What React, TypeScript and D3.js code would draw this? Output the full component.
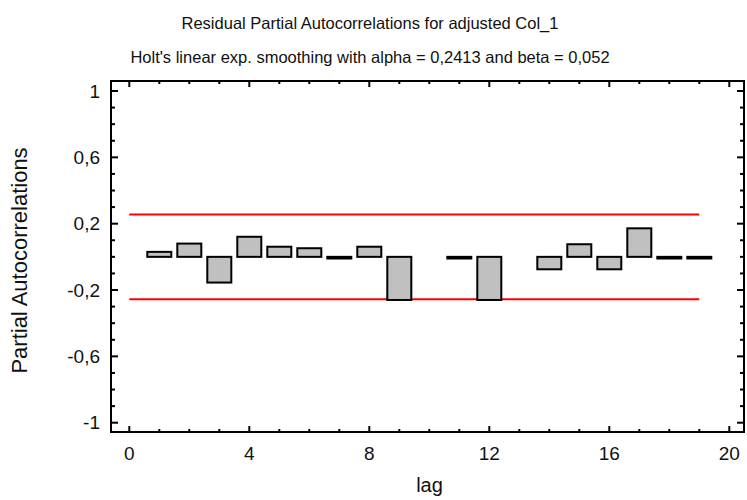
import React from "react";
import * as d3 from "d3";

const lags: number[] = [1, 2, 3, 4, 5, 6, 7, 8, 9, 10, 11, 12, 13, 14, 15, 16, 17, 18, 19];
const pacf: (number | null)[] = [
  0.03, 0.08, -0.155, 0.121, 0.061, 0.052, -0.01, 0.061, -0.26, null,
  -0.01, -0.26, null, -0.075, 0.076, -0.075, 0.172, -0.01, -0.01,
];
const limitUpper = 0.255;
const limitLower = -0.255;
const limitRange: [number, number] = [0, 19];
const xMajorTicks: number[] = [0, 4, 8, 12, 16, 20];
const yMajorTicks: number[] = [-1, -0.6, -0.2, 0.2, 0.6, 1];
const titleLine1 = "Residual Partial Autocorrelations for adjusted Col_1";
const titleLine2 = "Holt's linear exp. smoothing with alpha = 0,2413 and beta = 0,052";
const xLabel = "lag";
const yLabel = "Partial Autocorrelations";

const W = 747;
const H = 500;
const frame = { left: 111, right: 744, top: 81, bottom: 432 };
const FONT = "'Liberation Sans', Arial, sans-serif";

export default function App() {
  const x = d3.scaleLinear().domain([0, 20]).range([129.3, 729.3]);
  const y = d3.scaleLinear().domain([-1, 1]).range([422.7, 91]);
  const xMinor = d3.range(0, 21, 1);
  const yMinor = d3.range(-10, 11, 1).map((v) => v / 10);
  const fmt = (v: number) => {
    const s = d3.format("~g")(Math.round(v * 10) / 10);
    return s.replace(".", ",").replace("−", "-");
  };
  const barW = 0.8;
  const isMajorY = (v: number) => yMajorTicks.some((m) => Math.abs(m - v) < 1e-6);
  const isMajorX = (v: number) => xMajorTicks.includes(v);

  return (
    <svg
      width={W}
      height={H}
      style={{ position: "absolute", left: 0, top: 0, background: "#fff" }}
      fontFamily={FONT}
    >
      <rect x={0} y={0} width={W} height={H} fill="#fff" />
      <text x={370} y={29} textAnchor="middle" fontSize={16.5} fill="#111">
        {titleLine1}
      </text>
      <text x={370} y={63} textAnchor="middle" fontSize={16.5} fill="#111">
        {titleLine2}
      </text>

      {/* limit lines */}
      <line
        x1={x(limitRange[0])}
        x2={x(limitRange[1])}
        y1={y(limitUpper)}
        y2={y(limitUpper)}
        stroke="#ff0000"
        strokeWidth={2}
      />
      <line
        x1={x(limitRange[0])}
        x2={x(limitRange[1])}
        y1={y(limitLower)}
        y2={y(limitLower)}
        stroke="#ff0000"
        strokeWidth={2}
      />

      {/* bars */}
      {lags.map((lag, i) => {
        const v = pacf[i];
        if (v === null) return null;
        const y0 = y(0);
        const y1 = y(v);
        return (
          <rect
            key={lag}
            x={x(lag - barW / 2)}
            width={x(lag + barW / 2) - x(lag - barW / 2)}
            y={Math.min(y0, y1)}
            height={Math.abs(y1 - y0)}
            fill="#c0c0c0"
            stroke="#000"
            strokeWidth={2}
          />
        );
      })}

      {/* frame */}
      <rect
        x={frame.left}
        y={frame.top}
        width={frame.right - frame.left}
        height={frame.bottom - frame.top}
        fill="none"
        stroke="#000"
        strokeWidth={2}
      />

      {/* x ticks bottom & top */}
      {xMinor.map((v) => {
        const len = isMajorX(v) ? 6 : 3;
        return (
          <g key={"xt" + v}>
            <line x1={x(v)} x2={x(v)} y1={frame.bottom} y2={frame.bottom - len} stroke="#000" strokeWidth={2} />
            <line x1={x(v)} x2={x(v)} y1={frame.top} y2={frame.top + len} stroke="#000" strokeWidth={2} />
          </g>
        );
      })}
      {xMajorTicks.map((v) => (
        <text key={"xl" + v} x={x(v)} y={460} textAnchor="middle" fontSize={19} fill="#111">
          {fmt(v)}
        </text>
      ))}

      {/* y ticks left & right */}
      {yMinor.map((v) => {
        const len = isMajorY(v) ? 7 : 4;
        return (
          <g key={"yt" + v}>
            <line x1={frame.left} x2={frame.left + len} y1={y(v)} y2={y(v)} stroke="#000" strokeWidth={2} />
            <line x1={frame.right} x2={frame.right - len} y1={y(v)} y2={y(v)} stroke="#000" strokeWidth={2} />
          </g>
        );
      })}
      {yMajorTicks.map((v) => (
        <text
          key={"yl" + v}
          x={100}
          y={y(v) + 6.5}
          textAnchor="end"
          fontSize={19}
          fill="#111"
        >
          {fmt(v)}
        </text>
      ))}

      <text x={(frame.left + frame.right) / 2 + 2} y={492} textAnchor="middle" fontSize={20} fill="#111">
        {xLabel}
      </text>
      <text
        transform={`translate(27, ${(frame.top + frame.bottom) / 2 + 4}) rotate(-90)`}
        textAnchor="middle"
        fontSize={22}
        fill="#111"
      >
        {yLabel}
      </text>
    </svg>
  );
}
